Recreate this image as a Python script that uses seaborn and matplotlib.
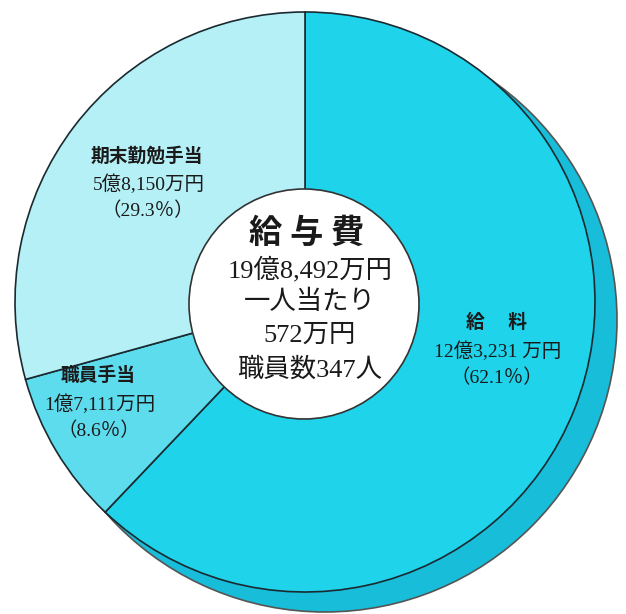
import matplotlib
matplotlib.use("Agg")
import matplotlib.pyplot as plt
import matplotlib.patches as mpatches
import seaborn as sns

# data
labels = ["給　 料", "職員手当", "期末勤勉手当"]
amounts = ["12億3,231 万円", "1億7,111万円", "5億8,150万円"]
shares = [62.1, 8.6, 29.3]
center_lines = ["19億8,492万円", "一人当たり", "572万円", "職員数347人"]
center_title = "給 与 費"

colors = ["#1fd3ea", "#5ddcee", "#b5f0f7"]
shadow_color = "#17bdd9"

sns.set_theme(style="white")
plt.rcParams["font.family"] = ["Liberation Serif", "Noto Sans CJK JP", "DejaVu Sans"]

W, H = 626, 614
fig = plt.figure(figsize=(W / 100, H / 100), dpi=100)
ax = fig.add_axes([0, 0, 1, 1])

cx, cy, r = 305, 302, 290

# shadow disc (3D-ish edge on the lower right)
shadow = mpatches.Circle((cx + 20, cy + 18), r + 2, facecolor=shadow_color,
                         edgecolor="#555555", linewidth=1.2, zorder=1)
ax.add_patch(shadow)

# y axis is inverted below, so counterclock=True runs clockwise on screen
wedges, _ = ax.pie(shares, colors=colors, startangle=-90, counterclock=True,
                   center=(cx, cy), radius=r, frame=True,
                   wedgeprops=dict(edgecolor="#1a2a30", linewidth=1.2))
for w in wedges:
    w.set_zorder(2)
ax.set_xlim(0, W)
ax.set_ylim(H, 0)
ax.set_aspect("equal")
ax.axis("off")

hole = mpatches.Circle((cx - 1, cy + 2), 115, facecolor="white",
                       edgecolor="#333333", linewidth=1.2, zorder=3)
ax.add_patch(hole)

txt = dict(ha="center", va="center", color="#1a1a1a", zorder=4)

# center text
ax.text(307, 233, center_title, fontsize=24, fontweight="bold",
        family=["Noto Sans CJK JP"], **txt)
for yy, line in zip([270, 302, 336, 370], center_lines):
    ax.text(310, yy, line, fontsize=19, **txt)

# slice labels
label_pos = [(496, 323), (98, 376), (147, 156)]
for (lx, ly), lab, amt, sh in zip(label_pos, labels, amounts, shares):
    ax.text(lx, ly, lab, fontsize=13.5, fontweight="bold", **txt)
    ax.text(lx + 2, ly + 28, amt, fontsize=14, **txt)
    ax.text(lx + 1, ly + 55, f"（{sh}％）", fontsize=14, **txt)

fig.savefig("out.png", dpi=100)
